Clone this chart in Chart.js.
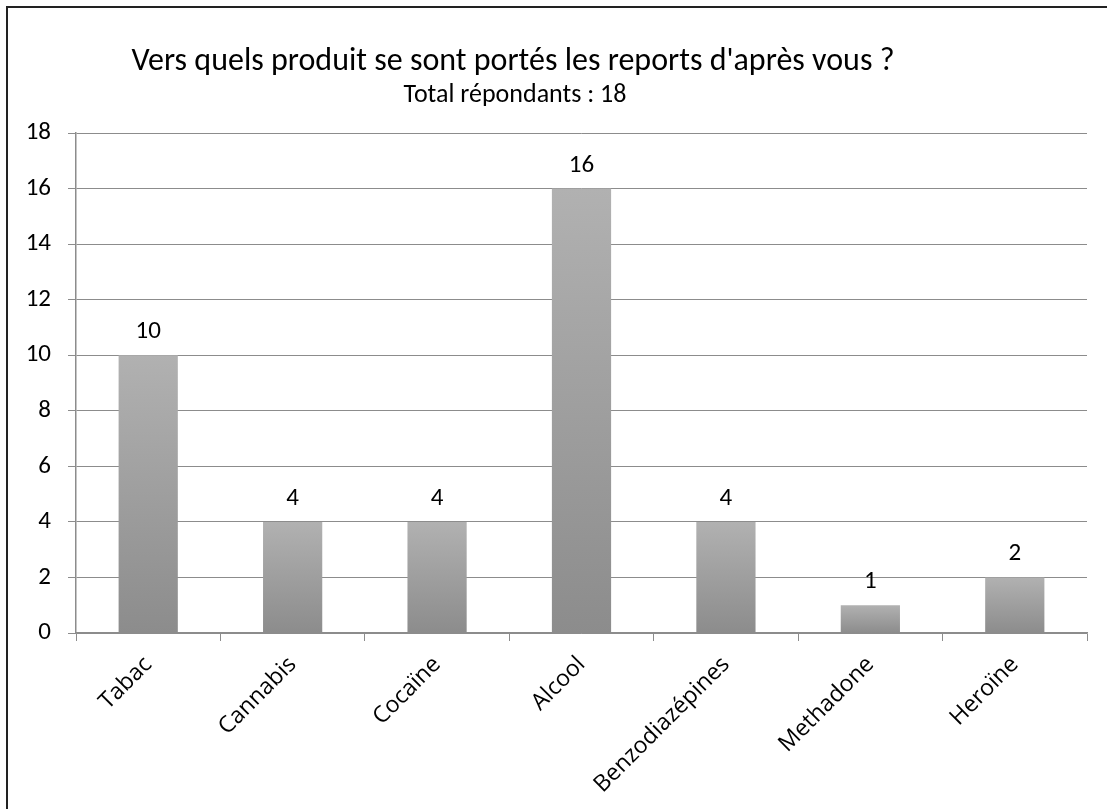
<!DOCTYPE html>
<html>
<head>
<meta charset="utf-8">
<script src="https://cdn.jsdelivr.net/npm/chart.js@4/dist/chart.umd.min.js"></script>
<style>
  html, body { margin: 0; padding: 0; background: #fff; }
  #wrap { position: relative; width: 1107px; height: 809px; overflow: hidden; }
  #frame { position: absolute; left: 6px; top: 6px; width: 1120px; height: 820px;
           border-left: 2px solid #222; border-top: 2px solid #222; pointer-events: none; }
</style>
</head>
<body>
<div id="wrap">
  <canvas id="chart" width="1107" height="809"></canvas>
  <div id="frame"></div>
</div>
<script>
// Data
const categories = ['Tabac', 'Cannabis', 'Cocaïne', 'Alcool', 'Benzodiazépines', 'Methadone', 'Heroïne'];
const values = [10, 4, 4, 16, 4, 1, 2];
const yTicks = [0, 2, 4, 6, 8, 10, 12, 14, 16, 18];
const titleText = "Vers quels produit se sont portés les reports d'après vous ?";
const subtitleText = 'Total répondants : 18';

const calibri = "Carlito, 'Liberation Sans Narrow', 'DejaVu Sans Condensed', sans-serif";

// gradient per bar, light at top, darker at the base
function barFill(ctx) {
    const chart = ctx.chart;
    const y = chart.scales && chart.scales.y;
    if (!y || ctx.type !== 'data') return '#a0a0a0';
    const top = y.getPixelForValue(ctx.raw);
    const base = y.getPixelForValue(0);
    if (!isFinite(top) || !isFinite(base) || top === base) return '#a0a0a0';
    const g = chart.ctx.createLinearGradient(0, top, 0, base);
    g.addColorStop(0, '#b1b1b1');
    g.addColorStop(1, '#8c8c8c');
    return g;
}

// value labels above bars + the title block (Excel centres it off the plot)
const valueLabels = {
    id: 'valueLabels',
    afterDatasetsDraw(chart) {
        const ctx = chart.ctx;
        const meta = chart.getDatasetMeta(0);
        ctx.save();
        ctx.font = '25px ' + calibri;
        ctx.fillStyle = '#000';
        ctx.textAlign = 'center';
        ctx.textBaseline = 'alphabetic';
        meta.data.forEach((bar, i) => {
            ctx.fillText(String(values[i]), bar.x, bar.y - 17);
        });

        ctx.textBaseline = 'middle';
        ctx.font = '32px ' + calibri;
        ctx.fillText(titleText, 513, 62);
        ctx.font = '26px ' + calibri;
        ctx.fillText(subtitleText, 515, 95);
        ctx.restore();
    }
};

new Chart(document.getElementById('chart'), {
    type: 'bar',
    data: {
        labels: categories,
        datasets: [{
            data: values,
            backgroundColor: barFill,
            borderWidth: 0,
            barPercentage: 0.41,
            categoryPercentage: 1
        }]
    },
    options: {
        responsive: false,
        animation: false,
        layout: { padding: { left: 0, right: 20, top: 133, bottom: 0 } },
        plugins: {
            legend: { display: false },
            tooltip: { enabled: false },
            title: { display: false }
        },
        scales: {
            x: {
                offset: true,
                grid: { display: true, drawOnChartArea: false, offset: true, tickLength: 8, color: '#8c8c8c' },
                border: { color: '#8c8c8c', width: 1.5 },
                ticks: {
                    color: '#000',
                    font: { family: "'Open Sans', 'Noto Sans', sans-serif", size: 23 },
                    minRotation: 45,
                    maxRotation: 45,
                    autoSkip: false,
                    padding: 10
                },
                afterFit(scale) { scale.height = 176; }
            },
            y: {
                min: 0,
                max: 18,
                afterBuildTicks(scale) { scale.ticks = yTicks.map(v => ({ value: v })); },
                grid: { color: '#8c8c8c', tickLength: 8, lineWidth: 1 },
                border: { color: '#8c8c8c', width: 1.5 },
                ticks: {
                    color: '#000',
                    font: { family: calibri, size: 25 },
                    padding: 17
                },
                afterFit(scale) { scale.width = 76; }
            }
        }
    },
    plugins: [valueLabels]
});
</script>
</body>
</html>
